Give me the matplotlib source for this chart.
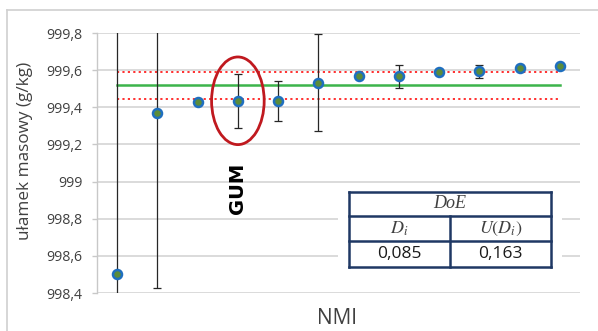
import matplotlib
matplotlib.use("Agg")
import matplotlib.pyplot as plt
from matplotlib.patches import Ellipse, Rectangle
from matplotlib.lines import Line2D

# ---- data ----
labs = list(range(1, 13))
values = [998.50, 999.371, 999.428, 999.434, 999.434, 999.533,
          999.567, 999.567, 999.590, 999.595, 999.612, 999.622]
uncert = [1.50, 0.944, 0.0, 0.147, 0.110, 0.260,
          0.0, 0.061, 0.018, 0.035, 0.015, 0.0]
ref_value = 999.518
ref_band = 0.074
yticks = [998.4, 998.6, 998.8, 999.0, 999.2, 999.4, 999.6, 999.8]
ytick_labels = ["998,4", "998,6", "998,8", "999", "999,2", "999,4", "999,6", "999,8"]
doe_header = "DoE"
doe_cols = ["$D_i$", "$U(D_i)$"]
doe_vals = ["0,085", "0,163"]

W, H = 598, 331
fig = plt.figure(figsize=(W / 100, H / 100), dpi=100)
plt.rcParams['font.family'] = ['Open Sans', 'DejaVu Sans']
plt.rcParams['mathtext.fontset'] = 'stix'

def fx(px):
    return px / W

def fy(py):
    return 1 - py / H

# outer chart border (left and top visible)
fig.add_artist(Line2D([fx(7), fx(7)], [fy(10), 0], color='#d0d0d0', lw=1.2, transform=fig.transFigure))
fig.add_artist(Line2D([fx(7), 1], [fy(10), fy(10)], color='#d0d0d0', lw=1.2, transform=fig.transFigure))

ax = fig.add_axes([fx(97), fy(293), fx(580) - fx(97), fy(33) - fy(293)])
ax.set_xlim(0.5, 12.5)
ax.set_ylim(998.4, 999.8)
for s in ['top', 'right', 'bottom']:
    ax.spines[s].set_visible(False)
ax.spines['left'].set_color('#c8c8c8')
ax.spines['left'].set_linewidth(1.0)
ax.set_yticks(yticks)
ax.set_yticklabels(ytick_labels, fontsize=10.2, color='#404040')
ax.tick_params(axis='y', length=3.6, width=1.0, color='#c8c8c8', pad=7)
ax.set_xticks([])
ax.yaxis.grid(True, color='#d4d4d4', lw=1.2, zorder=0)
ax.set_axisbelow(True)

# reference lines
ax.plot([labs[0], labs[-1]], [ref_value, ref_value], color='#3cb44b', lw=1.8, zorder=2)
ax.plot([labs[0], labs[-1]], [ref_value + ref_band] * 2, color='#ff2020', lw=1.3, ls=(0, (1.2, 1.8)), zorder=2)
ax.plot([labs[0], labs[-1]], [ref_value - ref_band] * 2, color='#ff2020', lw=1.3, ls=(0, (1.2, 1.8)), zorder=2)

# error bars + points
ax.errorbar(labs, values, yerr=uncert, fmt='none', ecolor='#262626', elinewidth=0.9,
            capsize=3, capthick=0.9, zorder=3)
ax.scatter(labs, values, s=42, facecolor='#5b8c3a', edgecolor='#1f6fbf', linewidths=1.8, zorder=4)

# ellipse around GUM point
ax.add_patch(Ellipse((4, 999.435), 1.307, 0.472, fill=False, edgecolor='#c0191f', lw=2.0, zorder=5))
ax.text(4.0, 998.964, "GUM", rotation=90, ha='center', va='center', fontsize=14,
        fontweight='bold', color='#000000', family=['DejaVu Sans'])

# table
fig.add_artist(Rectangle((fx(338), fy(271)), fx(562) - fx(338), fy(187) - fy(271),
                         facecolor='white', edgecolor='none', transform=fig.transFigure, zorder=6))
tx0, tx1, txm = 348.5, 551, 450
ty0, ty1, ty2, ty3 = 191.7, 216, 241, 266.7
navy = '#1f3864'
def hline(y, x0=tx0, x1=tx1):
    fig.add_artist(Line2D([fx(x0), fx(x1)], [fy(y), fy(y)], color=navy, lw=1.8,
                          transform=fig.transFigure, zorder=7, solid_capstyle='projecting'))
def vline(x, y0, y1):
    fig.add_artist(Line2D([fx(x), fx(x)], [fy(y0), fy(y1)], color=navy, lw=1.8,
                          transform=fig.transFigure, zorder=7, solid_capstyle='projecting'))
for yy in (ty0, ty1, ty2, ty3):
    hline(yy)
vline(tx0, ty0, ty3)
vline(tx1, ty0, ty3)
vline(txm, ty1, ty3)

fig.text(fx((tx0 + tx1) / 2), fy((ty0 + ty1) / 2), doe_header, ha='center', va='center',
         fontsize=13, style='italic', family=['Liberation Serif'], color='#404040', zorder=8)
for i, (c, v) in enumerate(zip(doe_cols, doe_vals)):
    cx = (tx0 + txm) / 2 if i == 0 else (txm + tx1) / 2
    fig.text(fx(cx), fy((ty1 + ty2) / 2), c, ha='center', va='center', fontsize=13,
             color='#404040', zorder=8)
    fig.text(fx(cx), fy((ty2 + ty3) / 2 + 0.5), v, ha='center', va='center', fontsize=12.5,
             color='#1a1a1a', zorder=8)

# axis labels
fig.text(fx(25), fy(151), "ułamek masowy (g/kg)", rotation=90, ha='center', va='center',
         fontsize=12.3, color='#404040')
fig.text(fx(337), fy(318), "NMI", ha='center', va='center', fontsize=15, color='#404040')

fig.savefig("out.png", dpi=100)
